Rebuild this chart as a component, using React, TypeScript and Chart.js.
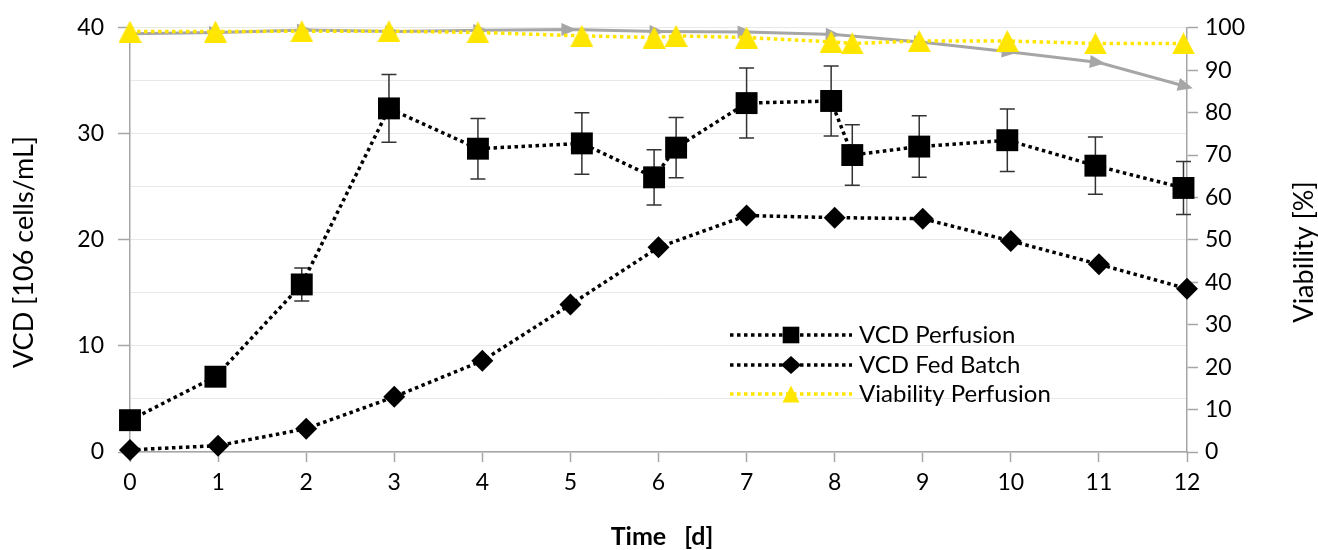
import React, { useEffect, useRef } from 'react';
import { Chart, registerables } from 'chart.js';

Chart.register(...registerables);

// ---- data ----
const perfusionDays = [0, 0.97, 1.95, 2.94, 3.95, 5.13, 5.95, 6.2, 7.0, 7.96, 8.2, 8.96, 9.96, 10.96, 11.96];
const vcdPerfusion = [3.0, 7.1, 15.8, 32.4, 28.6, 29.1, 25.9, 28.7, 32.9, 33.1, 28.0, 28.8, 29.4, 27.0, 24.9];
const vcdPerfusionErr = [0.4, 0.5, 1.55, 3.2, 2.85, 2.9, 2.6, 2.85, 3.3, 3.3, 2.85, 2.9, 2.95, 2.7, 2.5];
const viabilityPerfusion = [99.1, 99.1, 99.2, 99.2, 98.9, 98.1, 97.7, 98.1, 97.7, 96.7, 96.3, 96.9, 96.9, 96.3, 96.3];

const fedBatchDays = [0, 1, 2, 3, 4, 5, 6, 7, 8, 9, 10, 11, 12];
const vcdFedBatch = [0.2, 0.6, 2.2, 5.2, 8.6, 13.9, 19.3, 22.3, 22.1, 22.0, 19.9, 17.7, 15.4];
const viabilityFedBatch = [98.6, 98.9, 99.5, 99.1, 99.4, 99.6, 99.1, 99.0, 98.4, 96.6, 94.3, 91.8, 86.1];

const legendLabels = ['VCD Perfusion', 'VCD Fed Batch', 'Viability Perfusion'];
const xTitle = 'Time  [d]';
const yTitle = 'VCD [106 cells/mL]';
const y1Title = 'Viability [%]';

const YELLOW = '#FFE600';
const GRAY = '#A6A6A6';
const AXIS = '#A6A6A6';
const FONT = 'Lato';

function makeTriangle(w: number, h: number, color: string) {
  const c = document.createElement('canvas');
  c.width = w;
  c.height = h;
  const ctx = c.getContext('2d')!;
  ctx.fillStyle = color;
  ctx.beginPath();
  ctx.moveTo(w / 2, 0);
  ctx.lineTo(w, h);
  ctx.lineTo(0, h);
  ctx.closePath();
  ctx.fill();
  return c;
}

export default function App() {
  const ref = useRef<HTMLCanvasElement>(null);

  useEffect(() => {
    document.body.style.margin = '0';
    const canvas = ref.current!;
    const tri = makeTriangle(23, 22, YELLOW);

    const errorBars = {
      id: 'errorBars',
      beforeDatasetsDraw(chart: any) {
        const ctx = chart.ctx;
        const xs = chart.scales.x;
        const ys = chart.scales.y;
        ctx.save();
        ctx.strokeStyle = '#333333';
        ctx.lineWidth = 1.5;
        for (let i = 0; i < perfusionDays.length; i++) {
          const x = xs.getPixelForValue(perfusionDays[i]);
          const t = ys.getPixelForValue(vcdPerfusion[i] + vcdPerfusionErr[i]);
          const b = ys.getPixelForValue(vcdPerfusion[i] - vcdPerfusionErr[i]);
          ctx.beginPath();
          ctx.moveTo(x, t);
          ctx.lineTo(x, b);
          ctx.moveTo(x - 7.5, t);
          ctx.lineTo(x + 7.5, t);
          ctx.moveTo(x - 7.5, b);
          ctx.lineTo(x + 7.5, b);
          ctx.stroke();
        }
        ctx.restore();
      },
    };

    const arrows = {
      id: 'arrows',
      afterDatasetDraw(chart: any, args: any) {
        if (args.index !== 3) return;
        const pts = args.meta.data;
        const ctx = chart.ctx;
        ctx.save();
        ctx.fillStyle = GRAY;
        for (let i = 1; i < pts.length; i++) {
          const p0 = pts[i - 1];
          const p1 = pts[i];
          const a = Math.atan2(p1.y - p0.y, p1.x - p0.x);
          ctx.save();
          ctx.translate(p1.x, p1.y);
          ctx.rotate(a);
          ctx.beginPath();
          ctx.moveTo(6, 0);
          ctx.lineTo(-9, -6.5);
          ctx.lineTo(-9, 6.5);
          ctx.closePath();
          ctx.fill();
          ctx.restore();
        }
        ctx.restore();
      },
    };

    const decorations = {
      id: 'decorations',
      afterDraw(chart: any) {
        const ctx = chart.ctx;
        ctx.save();
        ctx.fillStyle = '#000';
        // axis titles
        ctx.font = `27px ${FONT}`;
        ctx.textAlign = 'center';
        ctx.textBaseline = 'alphabetic';
        ctx.save();
        ctx.translate(33, 252);
        ctx.rotate(-Math.PI / 2);
        ctx.fillText(yTitle, 0, 0);
        ctx.restore();
        ctx.save();
        ctx.translate(1313, 252);
        ctx.rotate(-Math.PI / 2);
        ctx.fillText(y1Title, 0, 0);
        ctx.restore();
        ctx.font = `bold 25px ${FONT}`;
        try { (ctx as any).wordSpacing = '3px'; } catch (e) { /* ignore */ }
        ctx.fillText(xTitle, 662, 545);
        try { (ctx as any).wordSpacing = '0px'; } catch (e) { /* ignore */ }

        // legend
        const rows = [335, 365, 394];
        const lx0 = 730, lx1 = 852, mx = 791, tx = 859;
        ctx.lineWidth = 3.5;
        ctx.setLineDash([3.5, 3.5]);
        rows.forEach((y, i) => {
          ctx.strokeStyle = i === 2 ? YELLOW : '#000';
          ctx.beginPath();
          ctx.moveTo(lx0, y);
          ctx.lineTo(lx1, y);
          ctx.stroke();
        });
        ctx.setLineDash([]);
        ctx.fillStyle = '#000';
        ctx.fillRect(mx - 8.3, rows[0] - 8.3, 16.6, 16.6);
        ctx.beginPath();
        ctx.moveTo(mx, rows[1] - 9);
        ctx.lineTo(mx + 10, rows[1]);
        ctx.lineTo(mx, rows[1] + 9);
        ctx.lineTo(mx - 10, rows[1]);
        ctx.closePath();
        ctx.fill();
        ctx.fillStyle = YELLOW;
        ctx.beginPath();
        ctx.moveTo(mx, rows[2] - 8.5);
        ctx.lineTo(mx + 8.5, rows[2] + 8.5);
        ctx.lineTo(mx - 8.5, rows[2] + 8.5);
        ctx.closePath();
        ctx.fill();
        ctx.fillStyle = '#000';
        ctx.font = `24px ${FONT}`;
        ctx.textAlign = 'left';
        ctx.textBaseline = 'alphabetic';
        const base = [342.5, 372.5, 401.5];
        legendLabels.forEach((l, i) => ctx.fillText(l, tx, base[i]));
        ctx.restore();
      },
    };

    const dotted = [3.5, 3.5];
    const tickFont = { family: FONT, size: 23 };
    const chart = new Chart(canvas, {
      type: 'line',
      data: {
        datasets: [
          {
            label: legendLabels[0],
            data: perfusionDays.map((d, i) => ({ x: d, y: vcdPerfusion[i] })),
            yAxisID: 'y',
            borderColor: '#000',
            borderWidth: 3.5,
            borderDash: dotted,
            pointStyle: 'rect',
            pointRadius: 15.5,
            pointBackgroundColor: '#000',
            pointBorderWidth: 0,
            order: 2,
            clip: false,
          } as any,
          {
            label: legendLabels[1],
            data: fedBatchDays.map((d, i) => ({ x: d, y: vcdFedBatch[i] })),
            yAxisID: 'y',
            borderColor: '#000',
            borderWidth: 3.5,
            borderDash: dotted,
            pointStyle: 'rectRot',
            pointRadius: 11,
            pointBackgroundColor: '#000',
            pointBorderWidth: 0,
            order: 3,
            clip: false,
          },
          {
            label: legendLabels[2],
            data: perfusionDays.map((d, i) => ({ x: d, y: viabilityPerfusion[i] })),
            yAxisID: 'y1',
            borderColor: YELLOW,
            borderWidth: 3.5,
            borderDash: dotted,
            pointStyle: tri,
            pointRadius: 11,
            order: 1,
            clip: false,
          },
          {
            label: 'Viability Fed Batch',
            data: fedBatchDays.map((d, i) => ({ x: d, y: viabilityFedBatch[i] })),
            yAxisID: 'y1',
            borderColor: GRAY,
            borderWidth: 3,
            pointRadius: 0,
            order: 4,
            clip: false,
          },
        ],
      },
      options: {
        animation: false,
        responsive: false,
        devicePixelRatio: 1,
        events: [],
        layout: { padding: { top: 22, left: 0, right: 0, bottom: 0 } },
        plugins: { legend: { display: false }, tooltip: { enabled: false } },
        scales: {
          x: {
            type: 'linear',
            min: 0,
            max: 12,
            afterFit: (s: any) => { s.height = 98; },
            ticks: { stepSize: 1, color: '#000', padding: 7, font: tickFont },
            grid: { drawOnChartArea: false, tickLength: 10, tickColor: AXIS, tickWidth: 1.5 },
            border: { display: true, color: AXIS, width: 1.5 },
          },
          y: {
            type: 'linear',
            position: 'left',
            min: 0,
            max: 40,
            afterFit: (s: any) => { s.width = 130; },
            ticks: {
              stepSize: 5,
              color: '#000',
              padding: 14,
              font: tickFont,
              callback: (v: any) => (Number(v) % 10 === 0 ? String(v) : ''),
            },
            grid: {
              color: '#E8E8E8',
              lineWidth: 1,
              tickLength: 12,
              tickWidth: 1.5,
              tickColor: (c: any) => (c.tick && c.tick.value % 10 === 0 ? AXIS : 'rgba(0,0,0,0)'),
            },
            border: { display: true, color: AXIS, width: 1.5 },
          },
          y1: {
            type: 'linear',
            position: 'right',
            min: 0,
            max: 100,
            afterFit: (s: any) => { s.width = 131; },
            ticks: { stepSize: 10, color: '#000', padding: 7, font: tickFont },
            grid: { drawOnChartArea: false, tickLength: 11, tickColor: AXIS, tickWidth: 1.5 },
            border: { display: true, color: AXIS, width: 1.5 },
          },
        },
      } as any,
      plugins: [errorBars, arrows, decorations],
    });
    return () => chart.destroy();
  }, []);

  return <canvas ref={ref} width={1318} height={550} style={{ display: 'block' }} />;
}
